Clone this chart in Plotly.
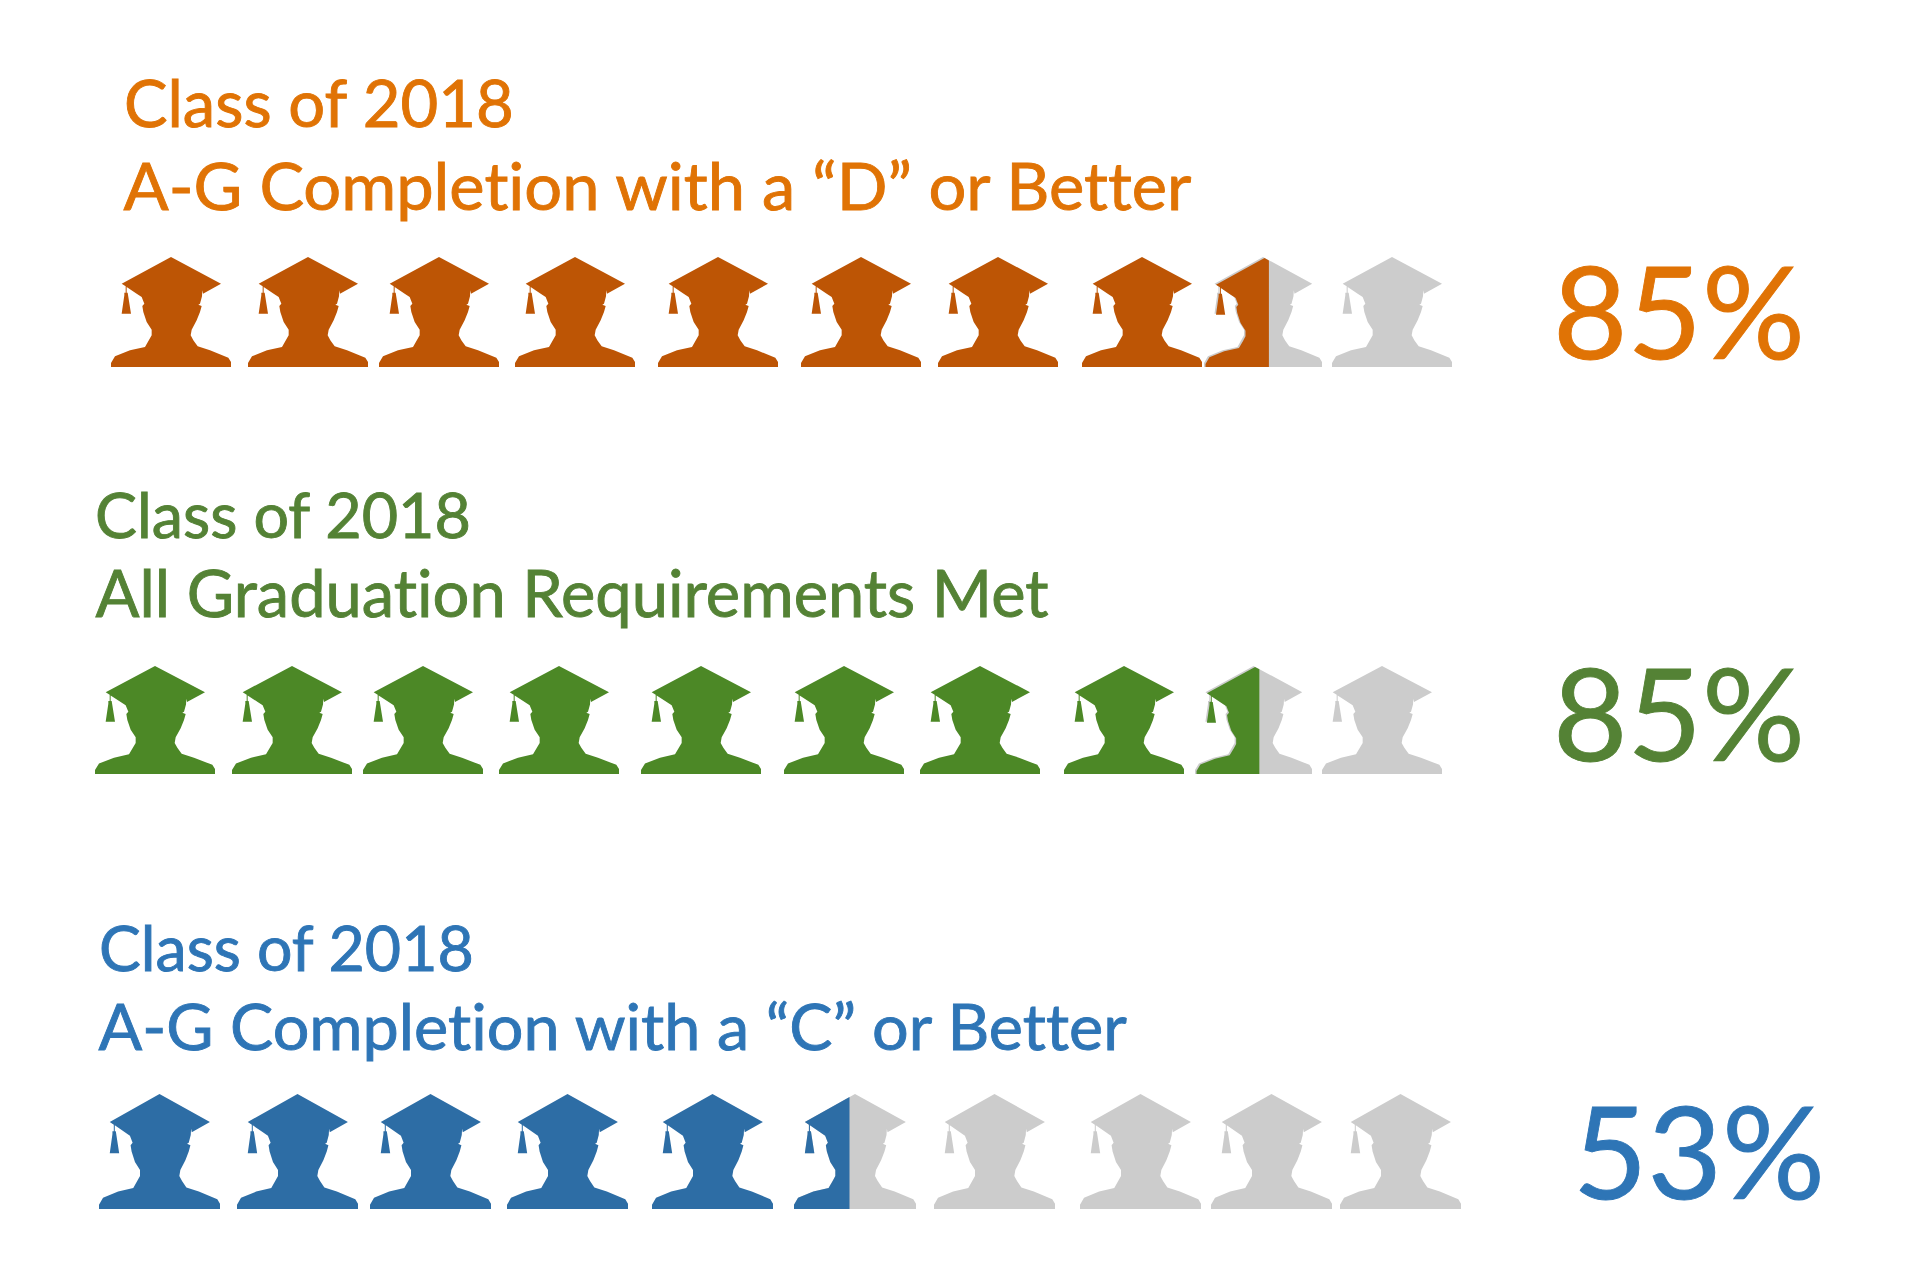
import plotly.graph_objects as go

# ---------- data ----------
line_one = ["Class of 2018", "Class of 2018", "Class of 2018"]
line_two = ["A-G Completion with a “D” or Better", "All Graduation Requirements Met", "A-G Completion with a “C” or Better"]
percent_labels = ["85%", "85%", "53%"]
full_icons = [8, 8, 5]
partial_fill = [0.55, 0.55, 0.455]
total_icons = [10, 10, 10]

# ---------- style / layout ----------
TITLE_COL = ["#E07305", "#548235", "#2E75B6"]
ICON_COL = ["#BD5505", "#4C8826", "#2D6DA5"]
GREY = "#CCCCCC"
ICON_LEFT = [
    [111, 248, 379, 515, 658, 801, 938, 1082, 1204, 1332],
    [95, 232, 363, 499, 641, 784, 920, 1064, 1195, 1322],
    [99, 237, 370, 507, 652, 794, 934, 1080, 1211, 1340],
]
ICON_W = [120, 120, 121]
PARTIAL_W = [118, 117, 122]
ICON_TOP = [257, 666, 1094]
ICON_H = [110, 108, 115]
FRINGE = [(1.5, 1), (1.5, 1), (0, 0)]
TITLE_X = [121.5, 92.5, 96.5]
TITLE_Y = [102, 513, 946]
TITLE_Y2 = [184, 592, 1025]
TITLE_SIZE = [65.1, 62.8, 62.6]
TITLE_SIZE2 = [66.8, 65, 64.7]
PCT_X = [1550.5, 1550.5, 1570.5]
PCT_Y = [309, 711, 1149]

# icon outline, in the 360 x 330 unit box of the glyph
BODY = [(180, 0), (330, 80), (276, 110), (274, 100), (273, 118), (267, 140), (262, 143), (272, 147),
        (267, 165), (257, 190), (242, 218), (239, 235), (247, 250), (260, 268), (297, 280), (352, 302), (360, 315),
        (360, 330), (0, 330), (0, 318), (12, 298), (57, 280), (102, 270), (115, 248), (122, 235), (122, 218), (107, 195),
        (97, 165), (94, 147), (100, 140), (92, 120), (77, 110), (47, 90), (47, 107), (50, 107),
        (60, 170), (32, 170), (40, 115), (40, 107), (44, 107), (44, 88), (32, 80)]


def place(left, top, w, h, dx=0, dy=0):
    return [(left + dx + px / 360 * w, top + dy + py / 330 * h) for px, py in BODY]


def clip_right(poly, xmax):
    out = []
    for i, cur in enumerate(poly):
        nxt = poly[(i + 1) % len(poly)]
        if cur[0] <= xmax:
            out.append(cur)
        if (cur[0] <= xmax) != (nxt[0] <= xmax):
            t = (xmax - cur[0]) / (nxt[0] - cur[0])
            out.append((xmax, cur[1] + t * (nxt[1] - cur[1])))
    return out


def add_poly(fig, poly, color):
    fig.add_trace(go.Scatter(
        x=[p[0] for p in poly] + [poly[0][0]],
        y=[p[1] for p in poly] + [poly[0][1]],
        mode="lines", fill="toself", fillcolor=color,
        line=dict(width=0, color=color), hoverinfo="skip", showlegend=False))


fig = go.Figure()
for r in range(3):
    w, top, h = ICON_W[r], ICON_TOP[r], ICON_H[r]
    for i in range(total_icons[r]):
        left = ICON_LEFT[r][i]
        if i < full_icons[r]:
            add_poly(fig, place(left, top, w, h), ICON_COL[r])
        elif i == full_icons[r]:
            pw = PARTIAL_W[r]
            add_poly(fig, place(left, top, pw, h), GREY)
            dx, dy = FRINGE[r]
            poly = place(left, top, pw, h, dx, dy)
            poly = [(x, min(y, top + h)) for x, y in poly]
            add_poly(fig, clip_right(poly, left + partial_fill[r] * pw), ICON_COL[r])
        else:
            add_poly(fig, place(left, top, w, h), GREY)

annotations = []
FONT = "Lato, Carlito, Calibri, sans-serif"
for r in range(3):
    for txt, y, sz in ((line_one[r], TITLE_Y[r], TITLE_SIZE[r]), (line_two[r], TITLE_Y2[r], TITLE_SIZE2[r])):
        annotations.append(dict(x=TITLE_X[r], y=y, xref="x", yref="y", text=txt, showarrow=False,
                                xanchor="left", yanchor="middle",
                                font=dict(family=FONT, size=sz, color=TITLE_COL[r])))
    annotations.append(dict(x=PCT_X[r], y=PCT_Y[r], xref="x", yref="y", text=percent_labels[r], showarrow=False,
                            xanchor="left", yanchor="middle",
                            font=dict(family=FONT, size=128.5, color=TITLE_COL[r])))

fig.update_layout(
    width=1916, height=1262, margin=dict(l=0, r=0, t=0, b=0),
    paper_bgcolor="white", plot_bgcolor="white", showlegend=False,
    xaxis=dict(range=[0, 1916], visible=False, fixedrange=True),
    yaxis=dict(range=[1262, 0], visible=False, fixedrange=True),
    annotations=annotations,
)
POST = """
document.body.style.margin='0';document.body.style.overflow='hidden';
document.querySelectorAll('.annotation-text').forEach(function(t){
  t.style.fontVariantLigatures='none';
  t.style.stroke=t.style.fill;
  t.style.strokeWidth='0.9px';
});
"""
fig.write_html("out.html", config=dict(displayModeBar=False), post_script=POST)
